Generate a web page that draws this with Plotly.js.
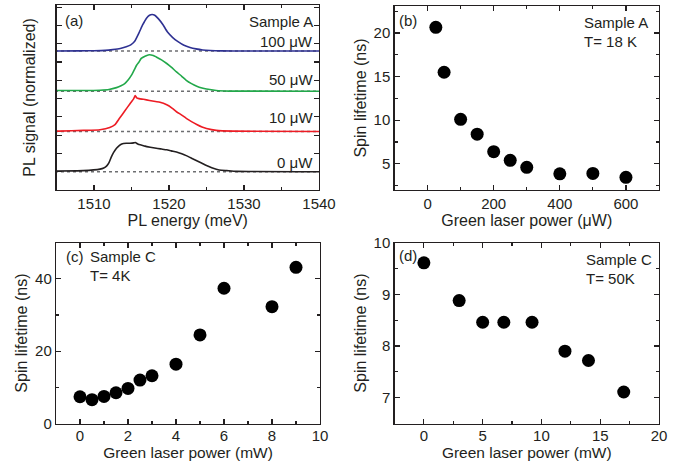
<!DOCTYPE html>
<html>
<head>
<meta charset="utf-8">
<script src="https://cdn.plot.ly/plotly-3.0.1.min.js"></script>
<style>html,body{margin:0;padding:0;background:#fff}#chart{width:679px;height:463px}</style>
</head>
<body>
<div id="chart"></div>
<script>
// ---- Panel (a): PL spectra (normalized), offset vertically ----
const curveOffsetStep = 1.1;
const eBlack = [1504.5,1508.55,1510.8,1511.3,1511.7,1512.0,1512.3,1512.6,1513.0,1513.4,1513.7,1514.3,1514.8,1515.3,1515.5,1515.9,1516.3,1516.8,1517.5,1518.3,1519.0,1519.7,1520.3,1521.0,1521.7,1522.3,1523.0,1523.7,1524.4,1525.0,1525.7,1526.3,1527.0,1527.7,1529.0,1540];
const iBlack = [0.02,0.03,0.07,0.10,0.16,0.25,0.40,0.52,0.64,0.72,0.76,0.78,0.78,0.79,0.80,0.75,0.73,0.70,0.67,0.64,0.62,0.60,0.57,0.54,0.49,0.44,0.37,0.30,0.23,0.17,0.11,0.07,0.04,0.03,0.01,0.0];
const eRed = [1504.5,1505.4,1508.6,1510.8,1512.1,1512.8,1513.4,1514.1,1514.8,1515.3,1515.5,1515.7,1516.0,1516.6,1517.4,1518.2,1518.8,1519.7,1520.4,1521.0,1521.7,1522.3,1523.0,1523.7,1524.4,1525.0,1526.3,1528.5,1540];
const iRed = [0.01,0.01,0.03,0.05,0.11,0.19,0.36,0.56,0.76,0.90,0.98,0.92,0.90,0.88,0.85,0.82,0.80,0.73,0.64,0.54,0.45,0.36,0.27,0.19,0.12,0.08,0.03,0.01,0.0];
const eGreen = [1504.5,1508.6,1510.8,1512.0,1513.0,1513.6,1514.1,1514.6,1515.0,1515.4,1515.7,1516.0,1516.3,1516.8,1517.35,1517.9,1518.3,1519.0,1519.7,1520.3,1521.0,1521.7,1522.3,1523.0,1523.7,1524.4,1525.0,1526.3,1528.0,1540];
const iGreen = [0.02,0.02,0.03,0.05,0.10,0.15,0.21,0.32,0.44,0.60,0.72,0.80,0.90,0.96,1.0,0.98,0.94,0.86,0.76,0.66,0.53,0.41,0.30,0.21,0.14,0.09,0.06,0.02,0.005,0.0];
const eBlue = [1504.5,1508.0,1510.0,1511.5,1512.5,1513.5,1514.3,1514.9,1515.4,1516.0,1516.5,1517.0,1517.4,1517.75,1518.1,1518.6,1519.2,1519.8,1520.5,1521.2,1522.0,1522.8,1523.6,1524.5,1525.5,1527.0,1530.0,1540];
const iBlue = [0.0,0.005,0.01,0.02,0.04,0.07,0.12,0.17,0.26,0.50,0.72,0.90,0.98,1.0,0.98,0.88,0.72,0.52,0.37,0.26,0.16,0.10,0.06,0.03,0.015,0.005,0.0,0.0];
const powerLabelsA = ["0 μW","10 μW","50 μW","100 μW"];
const curveColors = ["#231f20","#ed1c24","#22a84a","#2e3192"];

// ---- Panel (b): Sample A, T = 18 K ----
const powerB = [25,50,100,150,200,250,300,400,500,600];
const tauB = [20.65,15.5,10.1,8.4,6.4,5.4,4.6,3.85,3.9,3.45];
// ---- Panel (c): Sample C, T = 4 K ----
const powerC = [0,0.5,1,1.5,2,2.5,3,4,5,6,8,9];
const tauC = [7.4,6.6,7.5,8.5,9.7,12.0,13.2,16.4,24.5,37.4,32.3,43.2];
// ---- Panel (d): Sample C, T = 50 K ----
const powerD = [0,3,5,6.8,9.2,12,14,17];
const tauD = [9.61,8.88,8.46,8.46,8.46,7.90,7.72,7.11];

const W = 679, H = 463;
const fx = p => p / W, fy = p => 1 - p / H;
const FONT = "Arial, 'Liberation Sans', sans-serif";
const TXT = "#231f20";
const FS = 15, FT = 16, FTB = 15.5;

const spectra = [[eBlack,iBlack],[eRed,iRed],[eGreen,iGreen],[eBlue,iBlue]];
const traces = [];
spectra.forEach((s, k) => {
  const off = k * curveOffsetStep;
  traces.push({x:[1504,1540], y:[off,off], xaxis:'x', yaxis:'y', mode:'lines',
    line:{color:'#6d6e71', width:1.4, dash:'3px,3px'}, hoverinfo:'skip', showlegend:false});
});
spectra.forEach((s, k) => {
  const off = k * curveOffsetStep;
  traces.push({x:s[0], y:s[1].map(v => v + off), xaxis:'x', yaxis:'y', mode:'lines',
    line:{color:curveColors[k], width:1.6, shape:'spline', smoothing:0.5}, name:powerLabelsA[k], showlegend:false});
});
const mk = {color:'#000', size:13};
traces.push({x:powerB, y:tauB, xaxis:'x2', yaxis:'y2', mode:'markers', marker:mk, showlegend:false});
traces.push({x:powerC, y:tauC, xaxis:'x3', yaxis:'y3', mode:'markers', marker:mk, showlegend:false});
traces.push({x:powerD, y:tauD, xaxis:'x4', yaxis:'y4', mode:'markers', marker:mk, showlegend:false});

function ax(o) {
  return Object.assign({
    showline:true, linecolor:'#231f20', linewidth:1.2, mirror:'ticks',
    ticks:'inside', ticklen:5, tickwidth:1.2, tickcolor:'#231f20',
    showgrid:false, zeroline:false, fixedrange:true,
    tickfont:{family:FONT, size:FS, color:TXT},
  }, o);
}
function ttl(t, standoff, size) {
  return {text:t, font:{family:FONT, size:size || FT, color:TXT}, standoff:standoff};
}
const minor = d => ({dtick:d, ticks:'inside', ticklen:3, tickwidth:1.2, tickcolor:'#231f20', showgrid:false});
const BOT = 423.5;

const layout = {
  width:W, height:H, margin:{l:0,r:0,t:0,b:0},
  paper_bgcolor:'#fff', plot_bgcolor:'#fff', showlegend:false,
  font:{family:FONT, size:FS, color:TXT},
  xaxis: ax({domain:[fx(56.5), fx(319)], anchor:'y', range:[1505,1540], dtick:10, tick0:1510, minor:minor(5), title:ttl('PL energy (meV)', 0)}),
  yaxis: ax({domain:[fy(190), fy(5)], anchor:'x', range:[-0.5,4.56], dtick:0.5, tick0:0, showticklabels:false, title:ttl('PL signal (normalized)', 15)}),
  xaxis2: ax({domain:[fx(394.5), fx(659)], anchor:'y2', range:[-100,700], dtick:200, tick0:0, minor:minor(100), title:ttl('Green laser power (μW)', 0)}),
  yaxis2: ax({domain:[fy(190), fy(6)], anchor:'x2', range:[2,23.1], dtick:5, tick0:0, minor:minor(2.5), title:ttl('Spin lifetime (ns)', 3)}),
  xaxis3: ax({domain:[fx(56), fx(320)], anchor:'y3', range:[-1,10], dtick:2, tick0:0, minor:minor(1), ticklabelstandoff:-2, title:ttl('Green laser power (mW)', 0, FTB)}),
  yaxis3: ax({domain:[fy(BOT), fy(242.7)], anchor:'x3', range:[0,50], dtick:20, tick0:0, minor:minor(10), title:ttl('Spin lifetime (ns)', 3)}),
  xaxis4: ax({domain:[fx(394.5), fx(659)], anchor:'y4', range:[-2.5,20], dtick:5, tick0:0, minor:minor(2.5), ticklabelstandoff:-2, title:ttl('Green laser power (mW)', 0, FTB)}),
  yaxis4: ax({domain:[fy(BOT), fy(242.7)], anchor:'x4', range:[6.5,10], dtick:1, tick0:0, minor:minor(0.5), title:ttl('Spin lifetime (ns)', 3)}),
  annotations: []
};
function note(text, px, py, anchor) {
  layout.annotations.push({text:text, xref:'paper', yref:'paper', x:fx(px), y:fy(py),
    xanchor:anchor, yanchor:'middle', showarrow:false, font:{family:FONT, size:FS, color:TXT}});
}
note('(a)', 63, 20, 'left');
note('Sample A', 315, 21, 'right');
note(powerLabelsA[3], 315, 41.5, 'right');
note(powerLabelsA[2], 315, 79, 'right');
note(powerLabelsA[1], 315, 117, 'right');
note(powerLabelsA[0], 315, 162.5, 'right');
note('(b)', 397, 20, 'left');
note('Sample A', 582, 22.7, 'left');
note('T= 18 K', 582, 41.7, 'left');
note('(c)', 64, 256.7, 'left');
note('Sample C', 88, 256.7, 'left');
note('T= 4K', 88, 275, 'left');
note('(d)', 397, 255, 'left');
note('Sample C', 584, 259.3, 'left');
note('T= 50K', 584, 278.3, 'left');

Plotly.newPlot('chart', traces, layout, {staticPlot:true, displayModeBar:false});
</script>
</body>
</html>
